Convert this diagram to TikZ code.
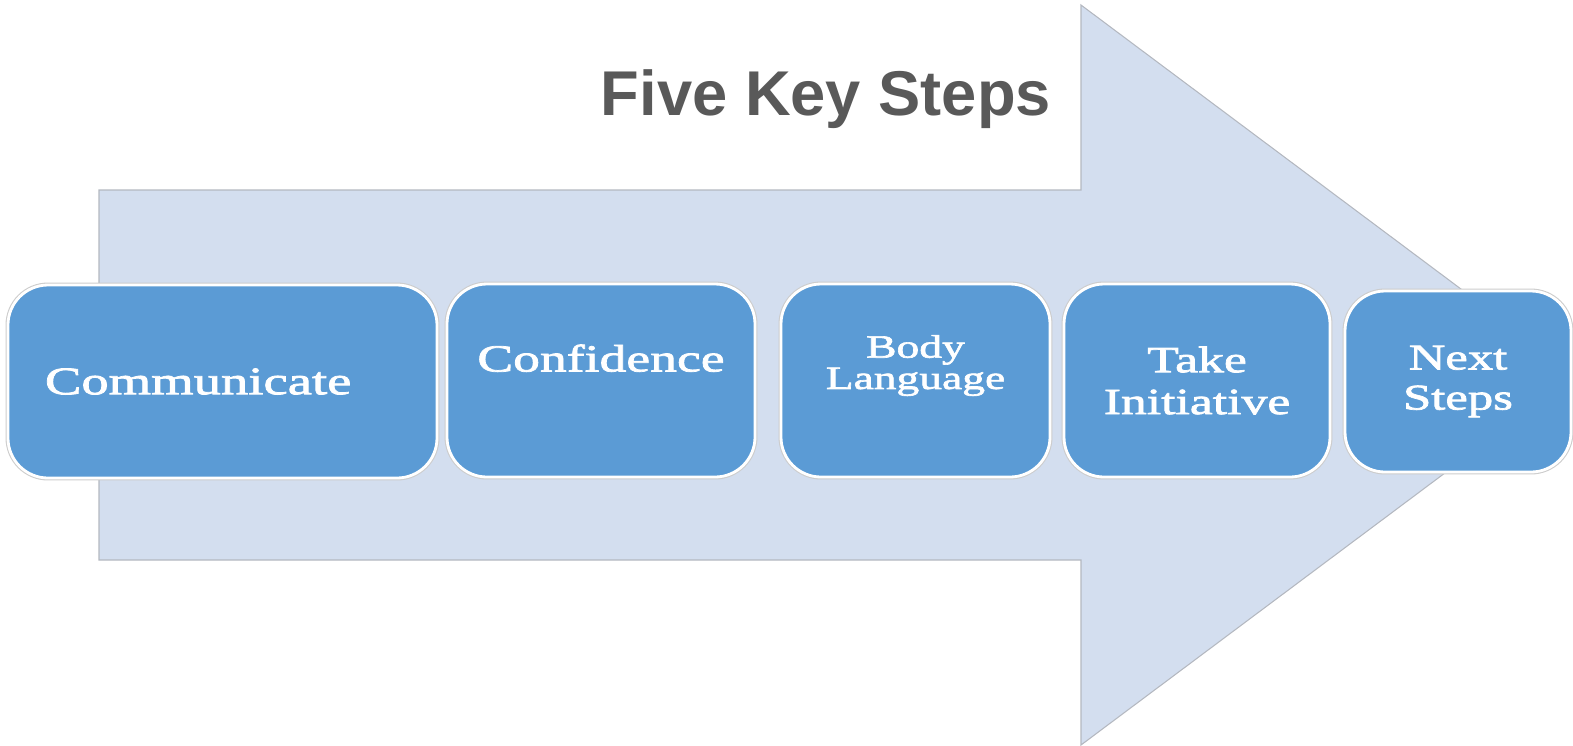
\documentclass[tikz,border=0pt]{standalone}
\usepackage{fontspec}
\setmainfont{Liberation Serif}
\newfontfamily\titlefont{Liberation Sans}
\newfontfamily\stepfont[FakeStretch=1.4,FakeBold=2]{Liberation Serif}

\definecolor{arrowfill}{HTML}{D3DEEF}
\definecolor{arrowline}{HTML}{B4B8C0}
\definecolor{stepblue}{HTML}{5B9BD5}
\definecolor{titlegray}{HTML}{595959}

\tikzset{
    arrowbody/.style={fill=arrowfill,draw=arrowline,line width=.6pt},
    stepbox/.style={rectangle,rounded corners=8mm,fill=stepblue,
        draw=white,line width=1.6pt,preaction={draw=black!20,line width=2.8pt},
        text=white,align=center,inner sep=0pt,minimum height=38.6mm,
        font=\stepfont\fontsize{22}{23.8}\selectfont},
}

\begin{document}
\begin{tikzpicture}[x=.2mm,y=-.2mm]
    \useasboundingbox(0,0)rectangle(1573,745);
    \clip(0,0)rectangle(1573,745);
    % big arrow behind the steps
    \draw[arrowbody](99,190)--(1081,190)--(1081,5)--(1576,375)
        --(1081,745)--(1081,560)--(99,560)--cycle;
    \node[font=\titlefont\bfseries\fontsize{36}{40}\selectfont,text=titlegray,anchor=base]
        (title) at (826,115) {Five Key Steps};
    % the five steps
    \node[stepbox,text width=71mm,align=left,inner xsep=7.4mm,
        font=\stepfont\fontsize{22.2}{24}\selectfont]
        (communicate) at (222.5,381.5) {Communicate};
    \node[stepbox,minimum width=61.6mm,text depth=9mm,
        font=\stepfont\fontsize{21.8}{24}\selectfont]
        (confidence) at (601,380.5) {Confidence};
    \node[stepbox,minimum width=53.8mm,text depth=7.4mm,
        font=\stepfont\fontsize{18.5}{17.8}\selectfont]
        (body) at (915.5,380.5) {Body\\Language};
    \node[stepbox,minimum width=53.2mm,font=\stepfont\fontsize{21}{23.8}\selectfont]
        (initiative) at (1197,380.5) {Take\\Initiative};
    \node[stepbox,minimum width=45.2mm,minimum height=36.2mm,
        font=\stepfont\fontsize{20.6}{22.8}\selectfont]
        (next) at (1458,381.5) {Next\\Steps};
\end{tikzpicture}
\end{document}
